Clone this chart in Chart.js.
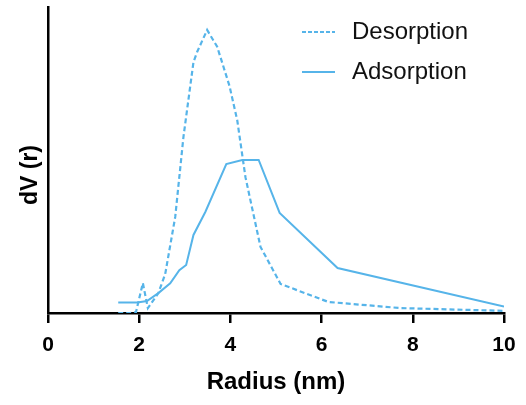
<!DOCTYPE html>
<html>
<head>
<meta charset="utf-8">
<script src="https://cdn.jsdelivr.net/npm/chart.js@4/dist/chart.umd.min.js"></script>
<style>
  html, body { margin: 0; padding: 0; background: #fff; }
  #wrap { width: 526px; height: 405px; position: relative; }
</style>
</head>
<body>
<div id="wrap"><canvas id="chart"></canvas></div>
<script>
// pore radius (nm) and dV(r) (arbitrary units, 0-100)
const desorptionX = [1.54, 1.80, 1.93, 2.08, 2.19, 2.42, 2.57, 2.79, 2.97, 3.19, 3.27, 3.49, 3.71, 3.98, 4.15, 4.33, 4.66, 5.10, 6.15, 7.74, 10.0];
const desorptionY = [0, 0, 0.3, 9.8, 1.6, 6.5, 12.7, 31.4, 57.5, 82, 85.3, 92.5, 87, 74.2, 63, 44.4, 21.6, 9.5, 3.6, 1.6, 0.7];

const adsorptionX = [1.54, 1.96, 2.17, 2.42, 2.68, 2.88, 3.03, 3.19, 3.45, 3.91, 4.26, 4.62, 5.08, 6.35, 10.0];
const adsorptionY = [3.4, 3.4, 3.9, 6.5, 9.7, 14, 15.7, 25.5, 33, 48.7, 50, 50, 32.7, 14.7, 2.1];

const xTicks = [0, 2, 4, 6, 8, 10];
const seriesNames = ["Desorption", "Adsorption"];

const blue = "#56B4E9";
const fontFamily = "'Liberation Sans', Arial, Helvetica, sans-serif";

function toPoints(xs, ys) {
  return xs.map((x, i) => ({ x: x, y: ys[i] }));
}

// legend + y title drawn by hand so they sit where the original has them
const extrasPlugin = {
  id: "extras",
  afterDraw(chart) {
    const ctx = chart.ctx;
    ctx.save();
    // y axis title
    ctx.font = "bold 23px " + fontFamily;
    ctx.fillStyle = "#000";
    ctx.textAlign = "center";
    ctx.textBaseline = "middle";
    ctx.translate(31, 175);
    ctx.rotate(-Math.PI / 2);
    ctx.fillText("dV (r)", 0, 0);
    ctx.restore();

    // legend
    ctx.save();
    ctx.font = "24px " + fontFamily;
    ctx.fillStyle = "#111";
    ctx.textAlign = "left";
    ctx.textBaseline = "middle";
    ctx.strokeStyle = blue;
    ctx.lineWidth = 2;
    const rows = [32, 72];
    seriesNames.forEach((name, i) => {
      const y = rows[i];
      ctx.setLineDash(i === 0 ? [4, 2] : []);
      ctx.beginPath();
      ctx.moveTo(302, y);
      ctx.lineTo(335, y);
      ctx.stroke();
      ctx.fillText(name, 352, y);
    });
    ctx.restore();
  }
};

new Chart(document.getElementById("chart"), {
  type: "line",
  data: {
    datasets: [
      {
        label: seriesNames[0],
        data: toPoints(desorptionX, desorptionY),
        borderColor: blue,
        borderWidth: 2.2,
        borderDash: [5, 3],
        pointRadius: 0,
        tension: 0,
        fill: false
      },
      {
        label: seriesNames[1],
        data: toPoints(adsorptionX, adsorptionY),
        borderColor: blue,
        borderWidth: 2,
        pointRadius: 0,
        tension: 0,
        fill: false
      }
    ]
  },
  options: {
    responsive: true,
    maintainAspectRatio: false,
    animation: false,
    layout: { padding: { top: 7, right: 22, left: 0, bottom: 0 } },
    plugins: {
      legend: { display: false },
      tooltip: { enabled: false }
    },
    scales: {
      x: {
        type: "linear",
        min: 0,
        max: 10,
        afterBuildTicks: (scale) => {
          scale.ticks = xTicks.map(v => ({ value: v }));
        },
        afterFit: (scale) => { scale.height = 92; },
        border: { color: "#000", width: 2.5 },
        grid: {
          display: true,
          drawOnChartArea: false,
          drawTicks: true,
          tickLength: 10,
          color: "#000",
          lineWidth: 2.5
        },
        ticks: {
          color: "#000",
          padding: 10,
          maxRotation: 0,
          font: { family: fontFamily, size: 21, weight: "bold" }
        },
        title: {
          display: true,
          text: "Radius (nm)",
          color: "#000",
          padding: { top: 0, bottom: 8 },
          font: { family: fontFamily, size: 24, weight: "bold" }
        }
      },
      y: {
        min: 0,
        max: 100,
        afterFit: (scale) => { scale.width = 48; },
        border: { color: "#000", width: 2.5 },
        grid: { display: false, drawTicks: false },
        ticks: { display: false }
      }
    }
  },
  plugins: [extrasPlugin]
});
</script>
</body>
</html>
